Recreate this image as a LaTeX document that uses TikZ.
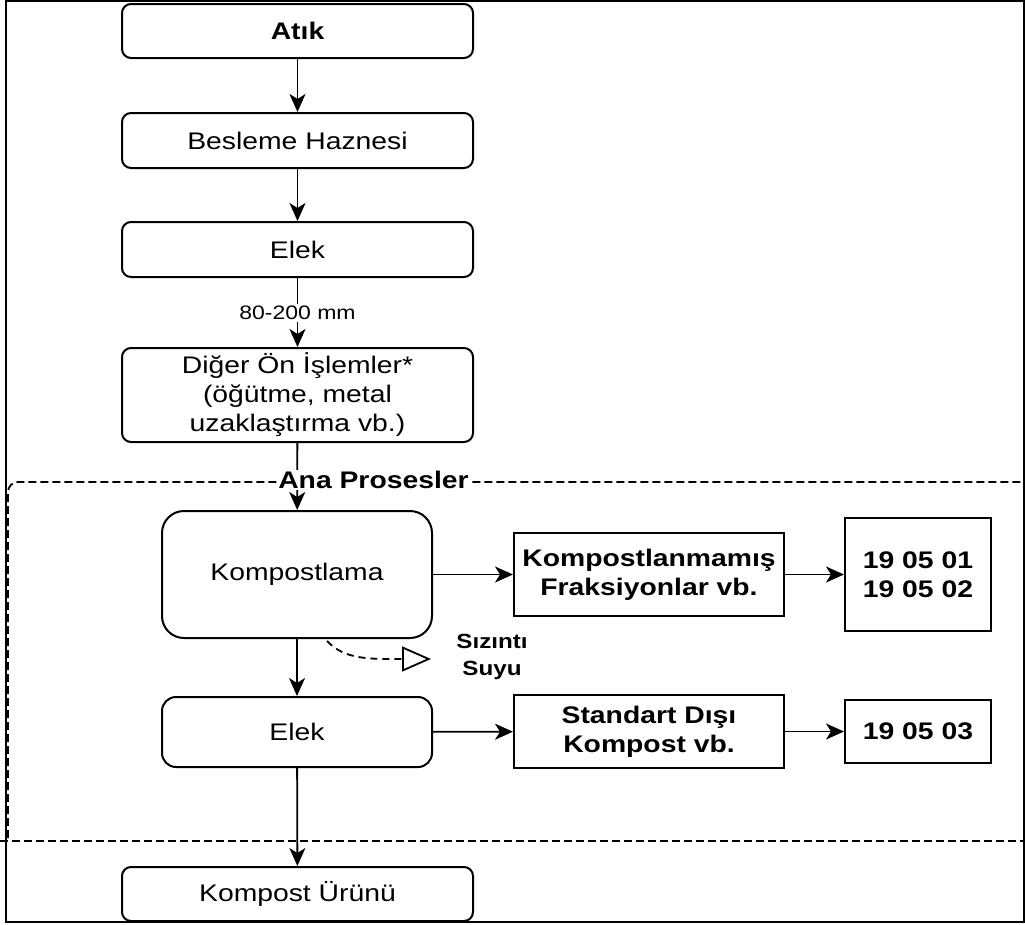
\documentclass[tikz,border=0pt]{standalone}
\usepackage{fontspec}
\setmainfont{Liberation Sans}[FakeStretch=1.18]
\usepackage{tikz}
\usetikzlibrary{arrows.meta,positioning,calc}
\tikzset{
  flowlabel/.style={font=\fontsize{24}{29}\selectfont, text=black},
  flowsmall/.style={font=\fontsize{19.5}{23}\selectfont, text=black},
  flownote/.style={font=\bfseries\fontsize{20.5}{27}\selectfont, text=black, align=center},
  flowbox/.style={draw, line width=2pt, rounded corners=9pt, fill=white, align=center, inner sep=0pt, minimum width=351pt, minimum height=54pt},
  procbox/.style={flowbox, minimum width=270pt},
  outbox/.style={draw, line width=2pt, fill=white, align=center, inner sep=0pt, font=\bfseries\fontsize{24}{29}\selectfont},
  flowarrow/.style={-{Stealth[length=18pt,width=16pt,inset=5pt]}, line width=1.8pt},
  leakarrow/.style={-{Triangle[open,length=29pt,width=25pt,line width=1.8pt]}, line width=1.8pt, dash pattern=on 7pt off 5pt},
  zoneline/.style={line width=1.8pt, dash pattern=on 8pt off 4pt}
}
\begin{document}
\begin{tikzpicture}[x=1pt, y=-1pt, every node/.style={flowlabel}]
\useasboundingbox (0,0) rectangle (1025,924);
\draw[line width=2.2pt] (6,1) rectangle (1024,922);
\draw[zoneline, rounded corners=10pt] (8,838) -- (8,482) -- (1030,482);
\draw[zoneline] (0,841) -- (1025,841);
\node[flowbox, font=\bfseries\fontsize{24}{29}\selectfont] (atik) at (297.5,31) {Atık};
\node[flowbox, minimum height=55pt] (besleme) at (297.5,140.5) {Besleme Haznesi};
\node[flowbox, minimum height=55pt] (elek1) at (297.5,249.5) {Elek};
\node[flowbox, minimum height=94pt] (diger) at (297.5,395) {Diğer Ön İşlemler*\\(öğütme, metal\\uzaklaştırma vb.)};
\node[procbox, rounded corners=22pt, minimum height=127pt] (komp) at (297,574.5) {Kompostlama};
\node[procbox, rounded corners=14pt, minimum height=70pt] (elek2) at (297,732) {Elek};
\node[flowbox] (urun) at (297.5,894) {Kompost Ürünü};
\node[outbox, minimum width=270pt, minimum height=83pt] (fraks) at (649,574.5) {Kompostlanmamış\\Fraksiyonlar vb.};
\node[outbox, minimum width=146pt, minimum height=113pt] (kod1) at (918,574.5) {19 05 01\\19 05 02};
\node[outbox, minimum width=270pt, minimum height=73pt] (std) at (649,731.5) {Standart Dışı\\Kompost vb.};
\node[outbox, minimum width=146pt, minimum height=63pt] (kod3) at (918,731.5) {19 05 03};
\coordinate (leak) at (431,659);
\draw[flowarrow] (atik) -- (besleme);
\draw[flowarrow] (besleme) -- (elek1);
\draw[flowarrow] (elek1) -- (diger);
\draw[flowarrow] (diger) -- (komp);
\draw[flowarrow] (komp) -- (fraks);
\draw[flowarrow] (fraks) -- (kod1);
\draw[flowarrow] (komp) -- (elek2);
\draw[flowarrow] (elek2) -- (std);
\draw[flowarrow] (std) -- (kod3);
\draw[flowarrow] (elek2) -- (urun);
\draw[leakarrow] ($(komp.south)+(30,2)$) .. controls (345,660) and (370,659) .. (leak);
\node[flowsmall, fill=white, inner sep=2pt] (mm) at (297.5,313) {80-200 mm};
\node[font=\bfseries\fontsize{24}{29}\selectfont, fill=white, inner sep=1pt] (ana) at (373.5,480) {Ana Prosesler};
\node[flownote] (sizinti) at (492,657) {Sızıntı\\Suyu};
\end{tikzpicture}
\end{document}
